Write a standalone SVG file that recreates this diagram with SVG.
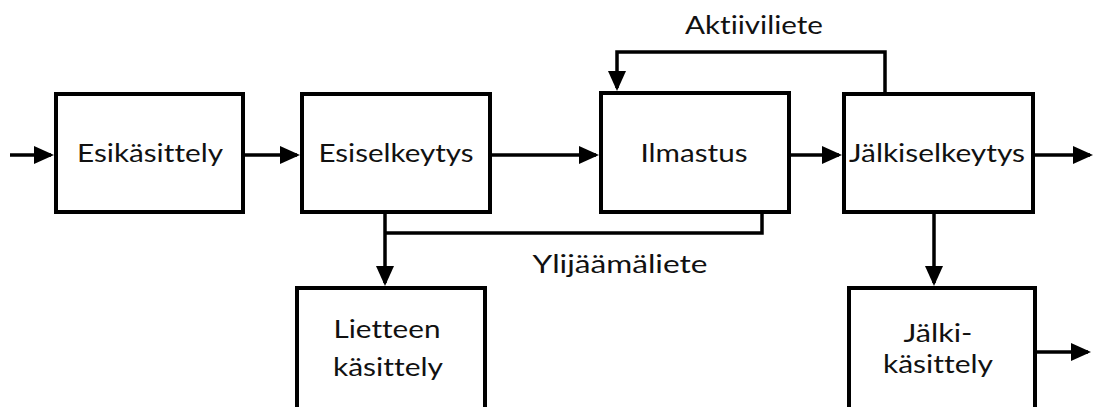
<svg xmlns="http://www.w3.org/2000/svg" width="1094" height="407" viewBox="0 0 1094 407">
<style>
.box{fill:#fff;stroke:#000;stroke-width:4}
.lbl{font-family:Lato,"Open Sans","Liberation Sans",sans-serif;font-size:25px;fill:#111;text-anchor:middle;font-variant-ligatures:none}
.con{fill:none;stroke:#000;stroke-width:3.5;stroke-linejoin:miter}
.arr{marker-end:url(#ah)}
</style>
<defs>
<marker id="ah" markerUnits="userSpaceOnUse" markerWidth="20" markerHeight="18" refX="17" refY="9" orient="auto" viewBox="0 0 20 18">
<path d="M0,0 L20,9 L0,18 z" fill="#000"/>
</marker>
</defs>
<rect width="1094" height="407" fill="#fff"/>
<g id="connectors">
<path class="con arr" d="M10,155 H51"/>
<path class="con arr" d="M245,155 H297"/>
<path class="con arr" d="M492,155 H596"/>
<path class="con arr" d="M791,155 H839"/>
<path class="con arr" d="M1035,155 H1090"/>
<path class="con arr" d="M885,92 V52 H617 V88"/>
<path class="con" d="M762,214 V233 H385"/>
<path class="con arr" d="M385,214 V283"/>
<path class="con arr" d="M934,214 V283"/>
<path class="con arr" d="M1037,352 H1088"/>
<text class="lbl" x="754" y="34" textLength="138" lengthAdjust="spacingAndGlyphs">Aktiiviliete</text>
<text class="lbl" x="620" y="273" textLength="175" lengthAdjust="spacingAndGlyphs">Ylijäämäliete</text>
</g>
<g id="esikasittely">
<rect class="box" x="56" y="94" width="187" height="118"/>
<text class="lbl" x="150" y="162" textLength="146" lengthAdjust="spacingAndGlyphs">Esikäsittely</text>
</g>
<g id="esiselkeytys">
<rect class="box" x="302" y="94" width="188" height="118"/>
<text class="lbl" x="396" y="162" textLength="155" lengthAdjust="spacingAndGlyphs">Esiselkeytys</text>
</g>
<g id="ilmastus">
<rect class="box" x="601" y="93" width="188" height="119"/>
<text class="lbl" x="694" y="162" textLength="107" lengthAdjust="spacingAndGlyphs">Ilmastus</text>
</g>
<g id="jalkiselkeytys">
<rect class="box" x="844" y="94" width="189" height="118"/>
<text class="lbl" x="937" y="162" textLength="176" lengthAdjust="spacingAndGlyphs">Jälkiselkeytys</text>
</g>
<g id="lietteen-kasittely">
<rect class="box" x="297" y="288" width="188" height="130"/>
<text class="lbl" x="387" y="338" textLength="107" lengthAdjust="spacingAndGlyphs">Lietteen</text>
<text class="lbl" x="388" y="376" textLength="110" lengthAdjust="spacingAndGlyphs">käsittely</text>
</g>
<g id="jalkikasittely">
<rect class="box" x="849" y="288" width="186" height="130"/>
<text class="lbl" x="938" y="342" textLength="69" lengthAdjust="spacingAndGlyphs">Jälki-</text>
<text class="lbl" x="938" y="373" textLength="110" lengthAdjust="spacingAndGlyphs">käsittely</text>
</g>
</svg>
